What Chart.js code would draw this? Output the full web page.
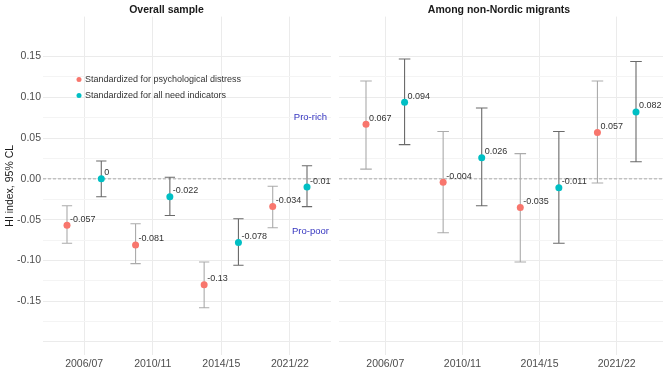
<!DOCTYPE html>
<html>
<head>
<meta charset="utf-8">
<script src="https://cdn.jsdelivr.net/npm/chart.js@4/dist/chart.umd.min.js"></script>
<style>
body{margin:0;background:#fff}
#wrap{position:relative;width:669px;height:371px}
canvas{position:absolute;top:0}
</style>
</head>
<body>
<div id="wrap">
<canvas id="left" width="335" height="371" style="left:0"></canvas>
<canvas id="right" width="334" height="371" style="left:335px"></canvas>
</div>
<script>
// survey waves
const categories = ["2006/07","2010/11","2014/15","2021/22"]

// overall sample
const overallPsych   = [-0.057,-0.081,-0.13,-0.034]
const overallPsychLo = [-0.079,-0.104,-0.158,-0.060]
const overallPsychHi = [-0.033,-0.055,-0.102,-0.009]
const overallAll     = [0,-0.022,-0.078,-0.01]
const overallAllLo   = [-0.022,-0.045,-0.106,-0.034]
const overallAllHi   = [0.022,0.002,-0.049,0.016]

// non-Nordic migrants
const migrPsych   = [0.067,-0.004,-0.035,0.057]
const migrPsychLo = [0.012,-0.066,-0.102,-0.005]
const migrPsychHi = [0.120,0.058,0.031,0.120]
const migrAll     = [0.094,0.026,-0.011,0.082]
const migrAllLo   = [0.042,-0.033,-0.079,0.021]
const migrAllHi   = [0.147,0.087,0.058,0.144]

const yLabels = ["-0.15","-0.10","-0.05","0.00","0.05","0.10","0.15"]

const FONT = "'Liberation Sans', Arial, sans-serif"
const RED = "#F8766D"
const TEAL = "#00BFC4"

// error bars, zero line, value labels
const panelPlugin = {
id:"panel",
beforeDatasetsDraw(chart){
let ctx=chart.ctx, x=chart.scales.x, y=chart.scales.y, a=chart.chartArea
ctx.save()
ctx.strokeStyle="#9a9a9a"
ctx.lineWidth=0.8
ctx.setLineDash([3,2])
let y0=y.getPixelForValue(0)
ctx.beginPath(); ctx.moveTo(a.left,y0); ctx.lineTo(a.right,y0); ctx.stroke()
ctx.setLineDash([])
chart.data.datasets.forEach(ds=>{
ctx.strokeStyle=ds.barColor
ctx.lineWidth=1.1
ds.data.forEach((p,i)=>{
let px=x.getPixelForValue(p.x)
let l=x.getPixelForValue(p.x-0.075), r=x.getPixelForValue(p.x+0.075)
let lo=y.getPixelForValue(ds.lo[i]), hi=y.getPixelForValue(ds.hi[i])
ctx.beginPath()
ctx.moveTo(px,lo); ctx.lineTo(px,hi)
ctx.moveTo(l,lo); ctx.lineTo(r,lo)
ctx.moveTo(l,hi); ctx.lineTo(r,hi)
ctx.stroke()
})
})
ctx.restore()
},
afterDatasetsDraw(chart){
let ctx=chart.ctx, x=chart.scales.x, y=chart.scales.y
ctx.save()
ctx.font="9px "+FONT
ctx.fillStyle="#333"
ctx.textAlign="left"
ctx.textBaseline="middle"
chart.data.datasets.forEach(ds=>{
ds.data.forEach(p=>{
ctx.fillText(String(p.y),x.getPixelForValue(p.x)+3,y.getPixelForValue(p.y)-6)
})
})
let extra=chart.options.plugins.panel
if(extra && extra.legend){
let a=chart.chartArea
let items=[["Standardized for psychological distress",RED],["Standardized for all need indicators",TEAL]]
items.forEach((it,k)=>{
let ly=a.top+63+k*16
ctx.fillStyle=it[1]
ctx.beginPath(); ctx.arc(a.left+36,ly,2.5,0,Math.PI*2); ctx.fill()
ctx.fillStyle="#333"
ctx.fillText(it[0],a.left+42,ly)
})
ctx.fillStyle="#3535c0"
ctx.font="9.5px "+FONT
ctx.textAlign="center"
ctx.fillText("Pro-rich",x.getPixelForValue(4.3),y.getPixelForValue(0.076))
ctx.fillText("Pro-poor",x.getPixelForValue(4.3),y.getPixelForValue(-0.065))
}
ctx.restore()
}
}

function pts(vals,off){
return vals.map((v,i)=>({x:i+1+off,y:v}))
}

function makePanel(id,title,psych,psychLo,psychHi,all,allLo,allHi,isLeft){
let yTicks=[]
for(let k=-8;k<=6;k++) yTicks.push(k*25/1000)
return new Chart(document.getElementById(id),{
type:"scatter",
data:{
datasets:[
{data:pts(psych,-0.25),lo:psychLo,hi:psychHi,barColor:"#ababab",backgroundColor:RED,pointRadius:3.5,pointBorderWidth:0},
{data:pts(all,0.25),lo:allLo,hi:allHi,barColor:"#6a6a6a",backgroundColor:TEAL,pointRadius:3.5,pointBorderWidth:0}
]
},
options:{
responsive:false,
animation:false,
layout:{padding:{left:0,right:isLeft?2:6,top:0,bottom:0}},
plugins:{
legend:{display:false},
tooltip:{enabled:false},
title:{display:true,text:title,color:"#1a1a1a",font:{family:FONT,size:10.5,weight:"bold"},padding:{top:4,bottom:0}},
panel:{legend:isLeft}
},
scales:{
x:{
type:"linear",min:0.4,max:4.6,
afterBuildTicks(s){ s.ticks=categories.map((c,i)=>({value:i+1})) },
afterFit(s){ s.height=16 },
ticks:{autoSkip:false,maxRotation:0,padding:3,color:"#4d4d4d",font:{family:FONT,size:10.5},
callback:v=>categories[Math.round(v)-1]},
grid:{color:"#ebebeb",drawTicks:false},
border:{display:false}
},
y:{
min:-0.216,max:0.199,
afterBuildTicks(s){ s.ticks=yTicks.map(v=>({value:v})) },
afterFit(s){ s.width=isLeft?43:3 },
ticks:{display:isLeft,padding:2,color:"#4d4d4d",font:{family:FONT,size:10.5},
callback:v=>{
let t=v.toFixed(2)
if(t==="-0.00") t="0.00"
return yLabels.includes(t)?t:""
}},
grid:{drawTicks:false,color:c=>{
let k=Math.round(c.tick.value*40)
return k%2===0?"#ebebeb":"#f4f4f4"
}},
border:{display:false},
title:{display:isLeft,text:"HI index, 95% CL",color:"#1a1a1a",font:{family:FONT,size:10.5},padding:{top:4,bottom:0}}
}
}
},
plugins:[panelPlugin]
})
}

makePanel("left","Overall sample",overallPsych,overallPsychLo,overallPsychHi,overallAll,overallAllLo,overallAllHi,true)
makePanel("right","Among non-Nordic migrants",migrPsych,migrPsychLo,migrPsychHi,migrAll,migrAllLo,migrAllHi,false)
</script>
</body>
</html>
